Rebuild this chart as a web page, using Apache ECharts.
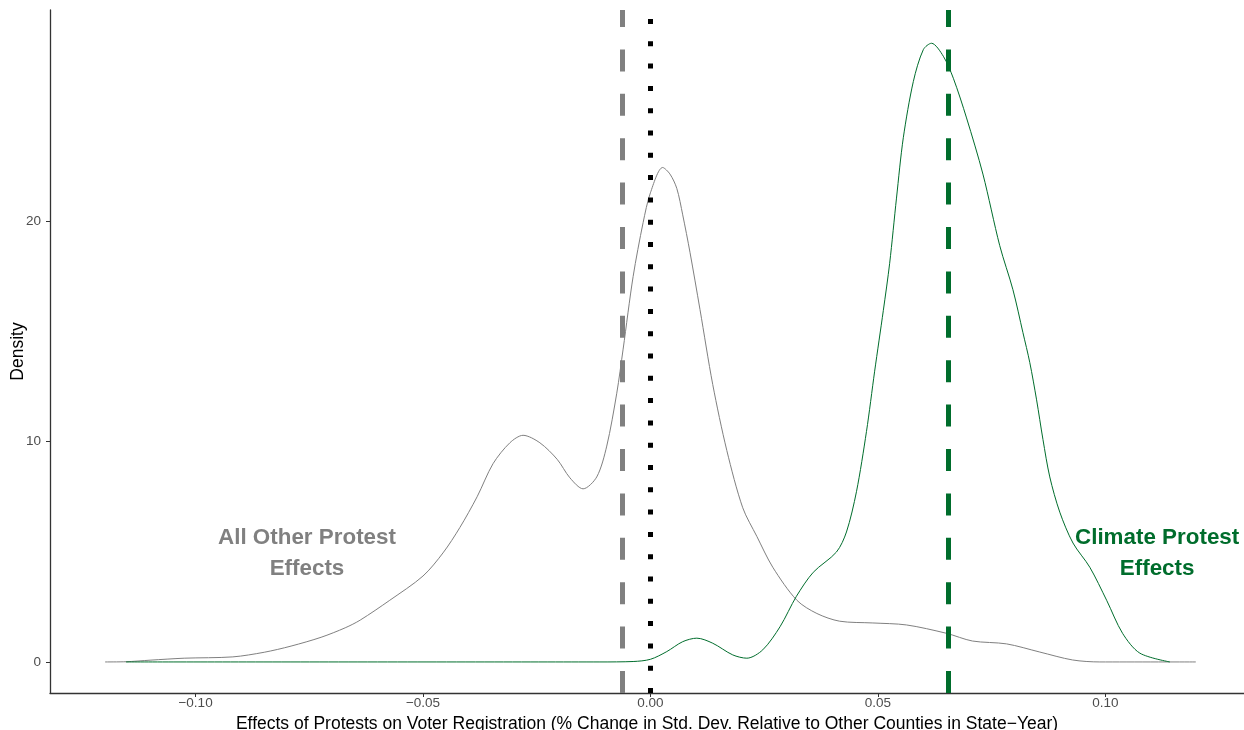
<!DOCTYPE html>
<html>
<head>
<meta charset="utf-8">
<script src="https://cdn.jsdelivr.net/npm/echarts@6/dist/echarts.min.js"></script>
<style>
  html, body { margin: 0; padding: 0; background: #ffffff; }
  #chart { width: 1244px; height: 730px; }
</style>
</head>
<body>
<div id="chart"></div>
<script>
// Density of estimated effects: all other protests
const otherX = [-0.1199, -0.1153, -0.1100, -0.1025, -0.0918, -0.0849, -0.0790, -0.0724, -0.0671, -0.0638,
                -0.0573, -0.0500, -0.0456, -0.0419, -0.0381, -0.0346, -0.0309, -0.0280, -0.0243, -0.0205,
                -0.0177, -0.0148, -0.0118, -0.0096, -0.0074, -0.0060, -0.0038, -0.0016, 0.0000, 0.0027,
                0.0043, 0.0058, 0.0071, 0.0087, 0.0109, 0.0137, 0.0168, 0.0203, 0.0234, 0.0269, 0.0322, 0.0366,
                0.0416, 0.0489, 0.0563, 0.0651, 0.0708, 0.0783, 0.0856, 0.0928, 0.0988, 0.1199];
const otherY = [0, 0.01, 0.08, 0.17, 0.23, 0.44, 0.72, 1.12, 1.55, 1.9,
                2.8, 3.9, 4.95, 6.1, 7.5, 9.0, 9.95, 10.29, 9.95, 9.2,
                8.36, 7.86, 8.4, 9.8, 12.2, 14.2, 17.5, 19.95, 21.3, 22.45,
                22.15, 21.5, 20.3, 18.6, 16.0, 12.6, 9.6, 7.0, 5.7, 4.3, 2.8, 2.2,
                1.85, 1.77, 1.68, 1.3, 0.95, 0.82, 0.45, 0.09, 0, 0];

// Density of estimated effects: climate protests
const climateX = [-0.1153, -0.0111, -0.0038, 0.0000, 0.0036, 0.0071, 0.0102, 0.0137, 0.0181, 0.0212,
                  0.0247, 0.0285, 0.0321, 0.0358, 0.0409, 0.0431, 0.0453, 0.0475, 0.0493, 0.0512,
                  0.0526, 0.0541, 0.0556, 0.0578, 0.0600, 0.0618, 0.0644, 0.0666, 0.0695, 0.0731,
                  0.0768, 0.0797, 0.0819, 0.0834, 0.0849, 0.0863, 0.0878, 0.0900, 0.0929, 0.0966,
                  0.1003, 0.1038, 0.1076, 0.1142];
const climateY = [0, 0, 0.02, 0.12, 0.47, 0.92, 1.08, 0.85, 0.32, 0.17,
                  0.55, 1.6, 2.98, 4.07, 4.99, 5.9, 7.73, 10.46, 13.2, 15.95,
                  18.1, 21.06, 23.8, 26.35, 27.8, 28.09, 27.5, 26.5, 24.7, 22.15,
                  18.9, 16.9, 14.95, 13.6, 11.9, 10.1, 8.4, 6.8, 5.4, 4.3,
                  2.8, 1.3, 0.4, 0];

// Reference lines: mean of other effects, zero, mean of climate effects
const otherMean = -0.0063;
const zeroEffect = 0;
const climateMean = 0.0654;

// Tick values and labels
const xTickValues = [-0.10, -0.05, 0.00, 0.05, 0.10];
const xTickLabels = ['\u22120.10', '\u22120.05', '0.00', '0.05', '0.10'];
const yTickValues = [0, 10, 20];
const yTickLabels = ['0', '10', '20'];

// Group labels
const groupLabelX = [-0.0755, 0.1114];
const groupLabelY = [4.93, 4.93];
const groupLabelText = ['All Other Protest\nEffects', 'Climate Protest\nEffects'];

const GREY = '#808080';
const GREEN = '#006d2c';
const FONT = '"Liberation Sans", Arial, sans-serif';

const zip = (xs, ys) => xs.map((x, i) => [x, ys[i]]);

const chart = echarts.init(document.getElementById('chart'), null, { renderer: 'canvas' });

chart.setOption({
  animation: false,
  backgroundColor: '#ffffff',
  grid: { left: 50, right: 0, top: 10, bottom: 37, containLabel: false, outerBoundsMode: 'none' },
  xAxis: {
    type: 'value',
    min: -0.132,
    max: 0.1305,
    name: 'Effects of Protests on Voter Registration (% Change in Std. Dev. Relative to Other Counties in State\u2212Year)',
    nameLocation: 'middle',
    nameGap: 16,
    nameTextStyle: { color: '#000000', fontSize: 17.5, fontFamily: FONT },
    axisLine: { show: true, onZero: false, lineStyle: { color: '#333333', width: 1.3 } },
    axisTick: { show: true, length: 4, lineStyle: { color: '#333333', width: 1 }, customValues: xTickValues },
    axisLabel: {
      customValues: xTickValues,
      formatter: v => xTickLabels[xTickValues.findIndex(t => Math.abs(t - v) < 1e-9)],
      color: '#4d4d4d', fontSize: 13.5, lineHeight: 13, fontFamily: FONT, margin: 4,
      hideOverlap: false
    },
    splitLine: { show: false }
  },
  yAxis: {
    type: 'value',
    min: -1.41,
    max: 29.6,
    name: 'Density',
    nameLocation: 'middle',
    nameRotate: 90,
    nameGap: 23,
    nameMoveOverlap: false,
    nameTextStyle: { color: '#000000', fontSize: 17.5, fontFamily: FONT },
    axisLine: { show: true, onZero: false, lineStyle: { color: '#333333', width: 1.3 } },
    axisTick: { show: true, length: 4, lineStyle: { color: '#333333', width: 1 }, customValues: yTickValues },
    axisLabel: {
      customValues: yTickValues,
      formatter: v => yTickLabels[yTickValues.indexOf(v)],
      color: '#4d4d4d', fontSize: 13.5, fontFamily: FONT, margin: 9
    },
    splitLine: { show: false }
  },
  series: [
    {
      name: 'All Other Protests',
      type: 'line',
      data: zip(otherX, otherY),
      smooth: 0.3,
      symbol: 'none',
      lineStyle: { color: GREY, width: 1 },
      z: 2
    },
    {
      name: 'Climate Protests',
      type: 'line',
      data: zip(climateX, climateY),
      smooth: 0.3,
      symbol: 'none',
      lineStyle: { color: GREEN, width: 1 },
      z: 3,
      markLine: {
        silent: true,
        precision: 6,
        symbol: ['none', 'none'],
        label: { show: false },
        data: [
          { xAxis: otherMean, lineStyle: { color: GREY, width: 5, type: [22, 22.4], cap: 'butt' } },
          { xAxis: zeroEffect, lineStyle: { color: '#000000', width: 5, type: [5, 17.3], cap: 'butt' } },
          { xAxis: climateMean, lineStyle: { color: GREEN, width: 5, type: [22, 22.4], cap: 'butt' } }
        ]
      }
    },
    {
      name: 'Group labels',
      type: 'scatter',
      data: groupLabelX.map((x, i) => ({
        value: [x, groupLabelY[i]],
        label: { color: i === 0 ? GREY : GREEN, formatter: groupLabelText[i] }
      })),
      symbolSize: 0,
      silent: true,
      z: 5,
      itemStyle: { opacity: 1 },
      label: {
        show: true,
        position: 'inside',
        fontSize: 22.4,
        fontWeight: 'bold',
        fontFamily: FONT,
        lineHeight: 31,
        align: 'center',
        verticalAlign: 'middle'
      }
    }
  ]
});
</script>
</body>
</html>
